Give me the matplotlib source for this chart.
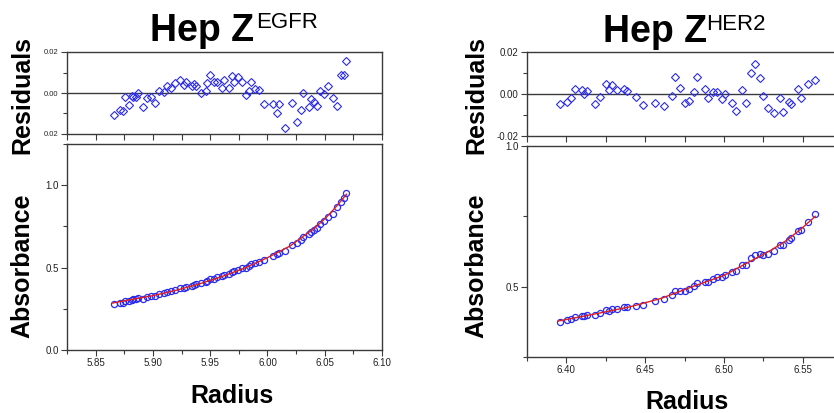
import matplotlib
matplotlib.use("Agg")
import matplotlib.pyplot as plt
import matplotlib.ticker as mticker

plt.rcParams["font.family"] = ["Liberation Sans", "DejaVu Sans"]

# Hep Z EGFR - residuals and absorbance scan
egfr_radius = [5.866, 5.871, 5.874, 5.876, 5.879, 5.882, 5.883, 5.885, 5.887, 5.891,
               5.895, 5.898, 5.902, 5.905, 5.910, 5.912, 5.916, 5.919, 5.924, 5.927,
               5.929, 5.934, 5.936, 5.938, 5.942, 5.946, 5.947, 5.950, 5.953, 5.956,
               5.960, 5.962, 5.966, 5.969, 5.971, 5.974, 5.978, 5.981, 5.984, 5.986,
               5.989, 5.993, 5.997, 6.005, 6.008, 6.010, 6.015, 6.021, 6.026, 6.029,
               6.031, 6.036, 6.038, 6.041, 6.043, 6.046, 6.049, 6.053, 6.057, 6.061,
               6.064, 6.067, 6.069]
egfr_resid = [-0.0108, -0.0081, -0.0089, -0.0018, -0.0060, -0.0013, -0.0018, -0.0018, 0.0002, -0.0069,
              -0.0024, -0.0018, -0.0050, 0.0008, 0.0006, 0.0035, 0.0024, 0.0047, 0.0063, 0.0039,
              0.0056, 0.0032, 0.0045, 0.0035, 0.0002, 0.0011, 0.0048, 0.0090, 0.0052, 0.0052,
              0.0024, 0.0061, 0.0024, 0.0082, 0.0052, 0.0079, 0.0053, -0.0008, 0.0008, 0.0053,
              0.0018, 0.0014, -0.0056, -0.0053, -0.0100, -0.0053, -0.0169, -0.0050, -0.0140, -0.0082,
              -0.0002, -0.0069, -0.0029, -0.0045, -0.0061, 0.0008, -0.0005, 0.0032, -0.0024, -0.0064,
              0.0087, 0.0087, 0.0158]
egfr_abs = [0.280, 0.285, 0.288, 0.296, 0.295, 0.306, 0.307, 0.309, 0.314, 0.309,
            0.320, 0.326, 0.328, 0.338, 0.346, 0.353, 0.357, 0.365, 0.375, 0.377,
            0.383, 0.389, 0.394, 0.398, 0.404, 0.413, 0.418, 0.430, 0.432, 0.440,
            0.447, 0.456, 0.463, 0.475, 0.477, 0.488, 0.496, 0.499, 0.510, 0.520,
            0.525, 0.537, 0.545, 0.573, 0.580, 0.591, 0.598, 0.637, 0.652, 0.670,
            0.686, 0.702, 0.717, 0.731, 0.741, 0.765, 0.781, 0.805, 0.825, 0.868,
            0.900, 0.923, 0.952]
egfr_fit_r = [5.865, 5.88, 5.90, 5.92, 5.94, 5.96, 5.98, 6.00, 6.02, 6.04, 6.05, 6.06, 6.069]
egfr_fit_a = [0.285, 0.305, 0.330, 0.362, 0.400, 0.445, 0.497, 0.560, 0.632, 0.735, 0.795, 0.870, 0.945]

# Hep Z HER2
her2_radius = [6.3957, 6.4006, 6.4032, 6.4057, 6.4100, 6.4111, 6.4130, 6.4181, 6.4213, 6.4249,
               6.4268, 6.4292, 6.4319, 6.4368, 6.4383, 6.4440, 6.4489, 6.4560, 6.4619, 6.4672,
               6.4692, 6.4719, 6.4751, 6.4779, 6.4809, 6.4828, 6.4877, 6.4898, 6.4928, 6.4958,
               6.4985, 6.5004, 6.5049, 6.5077, 6.5117, 6.5138, 6.5170, 6.5200, 6.5230, 6.5249,
               6.5277, 6.5317, 6.5356, 6.5377, 6.5413, 6.5426, 6.5468, 6.5490, 6.5532, 6.5579]
her2_resid = [-0.0046, -0.0038, -0.0019, 0.0022, 0.0019, -0.0002, 0.0013, -0.0048, -0.0013, 0.0049,
              0.0021, 0.0044, 0.0017, 0.0024, 0.0013, -0.0013, -0.0054, -0.0041, -0.0059, -0.0011,
              0.0079, 0.0029, -0.0041, -0.0032, 0.0008, 0.0079, 0.0024, -0.0019, 0.0010, 0.0011,
              -0.0024, 0.0000, -0.0043, -0.0079, 0.0021, -0.0041, 0.0098, 0.0141, 0.0075, -0.0010,
              -0.0065, -0.0090, -0.0017, -0.0084, -0.0037, -0.0049, 0.0025, -0.0017, 0.0046, 0.0065]
her2_abs = [0.374, 0.380, 0.385, 0.392, 0.396, 0.395, 0.398, 0.398, 0.405, 0.416,
            0.415, 0.420, 0.421, 0.427, 0.427, 0.433, 0.436, 0.448, 0.456, 0.472,
            0.485, 0.486, 0.486, 0.492, 0.503, 0.514, 0.517, 0.518, 0.527, 0.533,
            0.535, 0.541, 0.551, 0.555, 0.577, 0.577, 0.601, 0.614, 0.617, 0.614,
            0.616, 0.627, 0.648, 0.649, 0.667, 0.672, 0.699, 0.703, 0.731, 0.757]
her2_fit_r = [6.395, 6.42, 6.44, 6.46, 6.48, 6.50, 6.52, 6.53, 6.54, 6.55, 6.558]
her2_fit_a = [0.378, 0.405, 0.428, 0.458, 0.500, 0.540, 0.600, 0.630, 0.665, 0.710, 0.750]

W, H = 834, 413
BLUE = "#2b2bf0"
FRAME = "#3a3a3a"


def px_axes(fig, x0, y0, x1, y1):
    return fig.add_axes([x0 / W, 1 - y1 / H, (x1 - x0) / W, (y1 - y0) / H])


def style(ax, label_size=7):
    for s in ax.spines.values():
        s.set_color(FRAME)
        s.set_linewidth(1.0)
    ax.tick_params(which="major", direction="out", length=4, width=0.8, color=FRAME,
                   labelsize=label_size, labelcolor="#222222", pad=2)
    ax.tick_params(which="minor", direction="out", length=3, width=0.8, color=FRAME)


fig = plt.figure(figsize=(W / 100, H / 100), dpi=100)

panels = [
    dict(r=egfr_radius, res=egfr_resid, a=egfr_abs, fr=egfr_fit_r, fa=egfr_fit_a,
         x0=67, top=(52, 134), main=(144, 350), xlim=(5.825, 6.10), ylim=(0, 1.25),
         yt=[0.0, 0.5, 1.0], ytl=["0.0", "0.5", "1.0"], rtl=["0.02", "0.00", "0.02"],
         rsize=5.5, xt=[5.85, 5.90, 5.95, 6.00, 6.05, 6.10]),
    dict(r=her2_radius, res=her2_resid, a=her2_abs, fr=her2_fit_r, fa=her2_fit_a,
         x0=527, top=(52, 136), main=(146, 357), xlim=(6.375, 6.575), ylim=(0.25, 1.0),
         yt=[0.5, 1.0], ytl=["0.5", "1.0"], rtl=["-0.02", "0.00", "0.02"],
         rsize=7, xt=[6.40, 6.45, 6.50, 6.55]),
]

for p in panels:
    x1 = p["x0"] + 315
    # residuals
    axr = px_axes(fig, p["x0"], p["top"][0], x1, p["top"][1])
    axr.axhline(0, color=FRAME, lw=1.0, zorder=1)
    axr.plot(p["r"], p["res"], ls="none", marker="D", ms=3.6, mfc="none", mec=BLUE, mew=0.8)
    axr.set_xlim(p["xlim"])
    axr.set_ylim(-0.02, 0.02)
    axr.set_yticks([-0.02, 0.0, 0.02])
    axr.set_yticklabels(p["rtl"])
    axr.yaxis.set_minor_locator(mticker.MultipleLocator(0.01))
    axr.xaxis.set_major_locator(mticker.MultipleLocator(0.05))
    axr.xaxis.set_minor_locator(mticker.MultipleLocator(0.025))
    axr.set_xticklabels([])
    style(axr, p["rsize"])
    axr.tick_params(axis="x", which="both", length=4)

    # absorbance
    axm = px_axes(fig, p["x0"], p["main"][0], x1, p["main"][1])
    axm.plot(p["r"], p["a"], ls="none", marker="o", ms=4.4, mfc="none", mec=BLUE, mew=0.9)
    axm.plot(p["fr"], p["fa"], color="#e02020", lw=1.0)
    axm.set_xlim(p["xlim"])
    axm.set_ylim(p["ylim"])
    axm.set_yticks(p["yt"])
    axm.set_yticklabels(p["ytl"])
    axm.yaxis.set_minor_locator(mticker.MultipleLocator(0.25))
    axm.set_xticks(p["xt"])
    axm.set_xticklabels([f"{v:.2f}" for v in p["xt"]])
    axm.xaxis.set_minor_locator(mticker.MultipleLocator(0.025))
    style(axm, 7)

# titles
fig.text(150 / W, 1 - 41 / H, "Hep Z", fontsize=27, fontweight="bold", ha="left", va="baseline")
fig.text(256 / W, 1 - 28 / H, "EGFR", fontsize=16, ha="left", va="baseline")
fig.text(603 / W, 1 - 42 / H, "Hep Z", fontsize=27, fontweight="bold", ha="left", va="baseline")
fig.text(706 / W, 1 - 30 / H, "HER2", fontsize=16, ha="left", va="baseline")

# axis labels
for xc in (22, 476):
    fig.text(xc / W, 1 - 95 / H, "Residuals", fontsize=18, fontweight="bold",
             rotation=90, ha="center", va="center")
    fig.text(xc / W, 1 - 266 / H, "Absorbance", fontsize=18, fontweight="bold",
             rotation=90, ha="center", va="center")
fig.text(232 / W, 1 - 403 / H, "Radius", fontsize=18, fontweight="bold", ha="center", va="baseline")
fig.text(687 / W, 1 - 409 / H, "Radius", fontsize=18, fontweight="bold", ha="center", va="baseline")

fig.savefig("out.png", dpi=100)
